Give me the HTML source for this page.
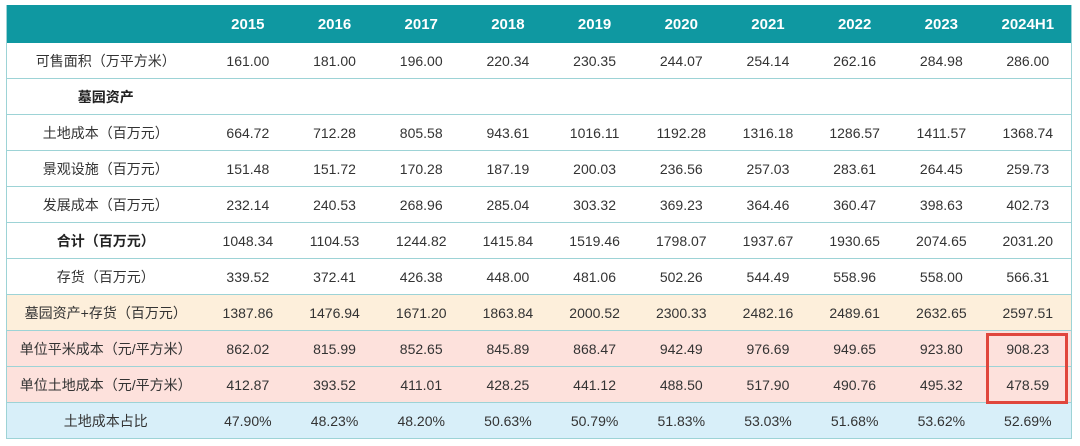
<!DOCTYPE html>
<html><head><meta charset="utf-8"><style>
body{margin:0;width:1080px;height:446px;background:#fff;overflow:hidden;font-family:"Liberation Sans","Noto Sans CJK SC",sans-serif;}
#t{position:absolute;left:6px;top:5px;width:1065px;border-collapse:collapse;table-layout:fixed;}
#t td{height:35px;border-bottom:1px solid #9dd3d6;text-align:center;font-size:14px;color:#333;padding:0;}
#t tr.h td{height:38px;background:#0f98a1;color:#fff;font-weight:bold;font-size:15px;border:none;}
#t tr.b td:first-child{font-weight:bold;color:#222}
tr.p td{background:#fdefdb}
tr.r td{background:#fde1dc}
tr.c td{background:#d8eff9}
#t{border-left:1px solid #9dd3d6;border-right:1px solid #9dd3d6;}
#box{position:absolute;left:986px;top:333px;width:76px;height:65px;border:3px solid #e0463c;}
</style></head><body>
<table id="t">
<colgroup><col style="width:198px"><col span="10" style="width:86.7px"></colgroup>
<tr class="h"><td></td><td>2015</td><td>2016</td><td>2017</td><td>2018</td><td>2019</td><td>2020</td><td>2021</td><td>2022</td><td>2023</td><td>2024H1</td></tr>
<tr><td>可售面积（万平方米）</td><td>161.00</td><td>181.00</td><td>196.00</td><td>220.34</td><td>230.35</td><td>244.07</td><td>254.14</td><td>262.16</td><td>284.98</td><td>286.00</td></tr>
<tr class="b"><td>墓园资产</td><td></td><td></td><td></td><td></td><td></td><td></td><td></td><td></td><td></td><td></td></tr>
<tr><td>土地成本（百万元）</td><td>664.72</td><td>712.28</td><td>805.58</td><td>943.61</td><td>1016.11</td><td>1192.28</td><td>1316.18</td><td>1286.57</td><td>1411.57</td><td>1368.74</td></tr>
<tr><td>景观设施（百万元）</td><td>151.48</td><td>151.72</td><td>170.28</td><td>187.19</td><td>200.03</td><td>236.56</td><td>257.03</td><td>283.61</td><td>264.45</td><td>259.73</td></tr>
<tr><td>发展成本（百万元）</td><td>232.14</td><td>240.53</td><td>268.96</td><td>285.04</td><td>303.32</td><td>369.23</td><td>364.46</td><td>360.47</td><td>398.63</td><td>402.73</td></tr>
<tr class="b"><td>合计（百万元）</td><td>1048.34</td><td>1104.53</td><td>1244.82</td><td>1415.84</td><td>1519.46</td><td>1798.07</td><td>1937.67</td><td>1930.65</td><td>2074.65</td><td>2031.20</td></tr>
<tr><td>存货（百万元）</td><td>339.52</td><td>372.41</td><td>426.38</td><td>448.00</td><td>481.06</td><td>502.26</td><td>544.49</td><td>558.96</td><td>558.00</td><td>566.31</td></tr>
<tr class="p"><td>墓园资产+存货（百万元）</td><td>1387.86</td><td>1476.94</td><td>1671.20</td><td>1863.84</td><td>2000.52</td><td>2300.33</td><td>2482.16</td><td>2489.61</td><td>2632.65</td><td>2597.51</td></tr>
<tr class="r"><td>单位平米成本（元/平方米）</td><td>862.02</td><td>815.99</td><td>852.65</td><td>845.89</td><td>868.47</td><td>942.49</td><td>976.69</td><td>949.65</td><td>923.80</td><td>908.23</td></tr>
<tr class="r"><td>单位土地成本（元/平方米）</td><td>412.87</td><td>393.52</td><td>411.01</td><td>428.25</td><td>441.12</td><td>488.50</td><td>517.90</td><td>490.76</td><td>495.32</td><td>478.59</td></tr>
<tr class="c"><td>土地成本占比</td><td>47.90%</td><td>48.23%</td><td>48.20%</td><td>50.63%</td><td>50.79%</td><td>51.83%</td><td>53.03%</td><td>51.68%</td><td>53.62%</td><td>52.69%</td></tr>
</table>
<div id="box"></div>
</body></html>
